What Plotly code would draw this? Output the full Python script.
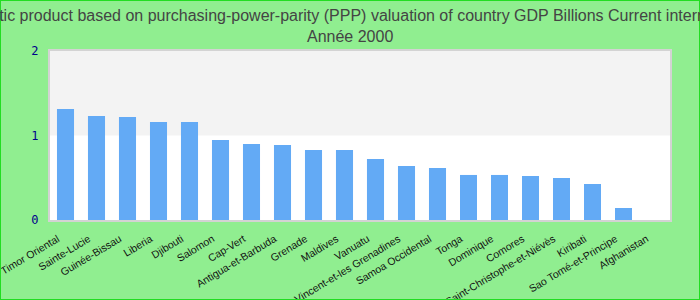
import plotly.graph_objects as go

countries = ["Timor Oriental", "Sainte-Lucie", "Guinée-Bissau", "Liberia", "Djibouti",
             "Salomon", "Cap-Vert", "Antigua-et-Barbuda", "Grenade", "Maldives",
             "Vanuatu", "Saint-Vincent-et-les Grenadines", "Samoa Occidental", "Tonga",
             "Dominique", "Comores", "Saint-Christophe-et-Niévès", "Kiribati",
             "Sao Tomé-et-Principe", "Afghanistan"]
values = [1.314, 1.231, 1.219, 1.160, 1.160,
          0.947, 0.899, 0.888, 0.828, 0.828,
          0.722, 0.639, 0.615, 0.533,
          0.533, 0.521, 0.497, 0.426,
          0.142, 0.0]
y_ticks = [0, 1, 2]

title_line1 = ("Gross domestic product based on purchasing-power-parity (PPP) valuation "
               "of country GDP Billions Current international dollar")
title_line2 = "Année 2000"

W, H = 700, 300
ml, mr, mt, mb = 50, 30, 51, 80
pw, ph = W - ml - mr, H - mt - mb

fig = go.Figure()
fig.add_trace(go.Bar(x=countries, y=values, marker=dict(color="#63aaf5", line=dict(width=0)),
                     width=0.55))

title_font = dict(family="Liberation Sans, Arial", size=16, color="#444444")

fig.update_layout(
    width=W, height=H,
    margin=dict(l=ml, r=mr, t=mt, b=mb, autoexpand=False),
    paper_bgcolor="#90ee90",
    plot_bgcolor="#ffffff",
    showlegend=False,
    annotations=[
        dict(text=title_line1, xref="paper", yref="paper", x=(W / 2 - ml) / pw,
             y=1 + (mt - 15) / ph, xanchor="center", yanchor="middle",
             showarrow=False, font=title_font),
        dict(text=title_line2, xref="paper", yref="paper", x=(W / 2 - ml) / pw,
             y=1 + (mt - 36) / ph, xanchor="center", yanchor="middle",
             showarrow=False, font=title_font),
    ],
    xaxis=dict(type="category", tickangle=-31, automargin=False,
               tickfont=dict(family="Liberation Sans, Arial", size=10.5, color="#111111"),
               showline=True, linecolor="#d3d3d3", linewidth=2, mirror=True,
               showgrid=False, ticks="", ticklabelshift=-8, ticklabelstandoff=7),
    yaxis=dict(range=[0, 2], tickvals=y_ticks, automargin=False,
               tickfont=dict(family="DejaVu Sans Mono", size=12, color="#00008b"),
               showline=True, linecolor="#d3d3d3", linewidth=2, mirror=True,
               showgrid=False, zeroline=False, ticks="outside", ticklen=7,
               tickcolor="rgba(0,0,0,0)"),
    shapes=[
        dict(type="rect", xref="paper", yref="y", x0=0, x1=1, y0=1, y1=2,
             fillcolor="#f3f3f3", line=dict(width=0), layer="below"),
        dict(type="rect", xref="paper", yref="paper",
             x0=-ml / pw, x1=1 + mr / pw, y0=-mb / ph, y1=1 + mt / ph,
             line=dict(color="#22dd22", width=2), fillcolor="rgba(0,0,0,0)"),
    ],
)

fig.write_html("out.html")
